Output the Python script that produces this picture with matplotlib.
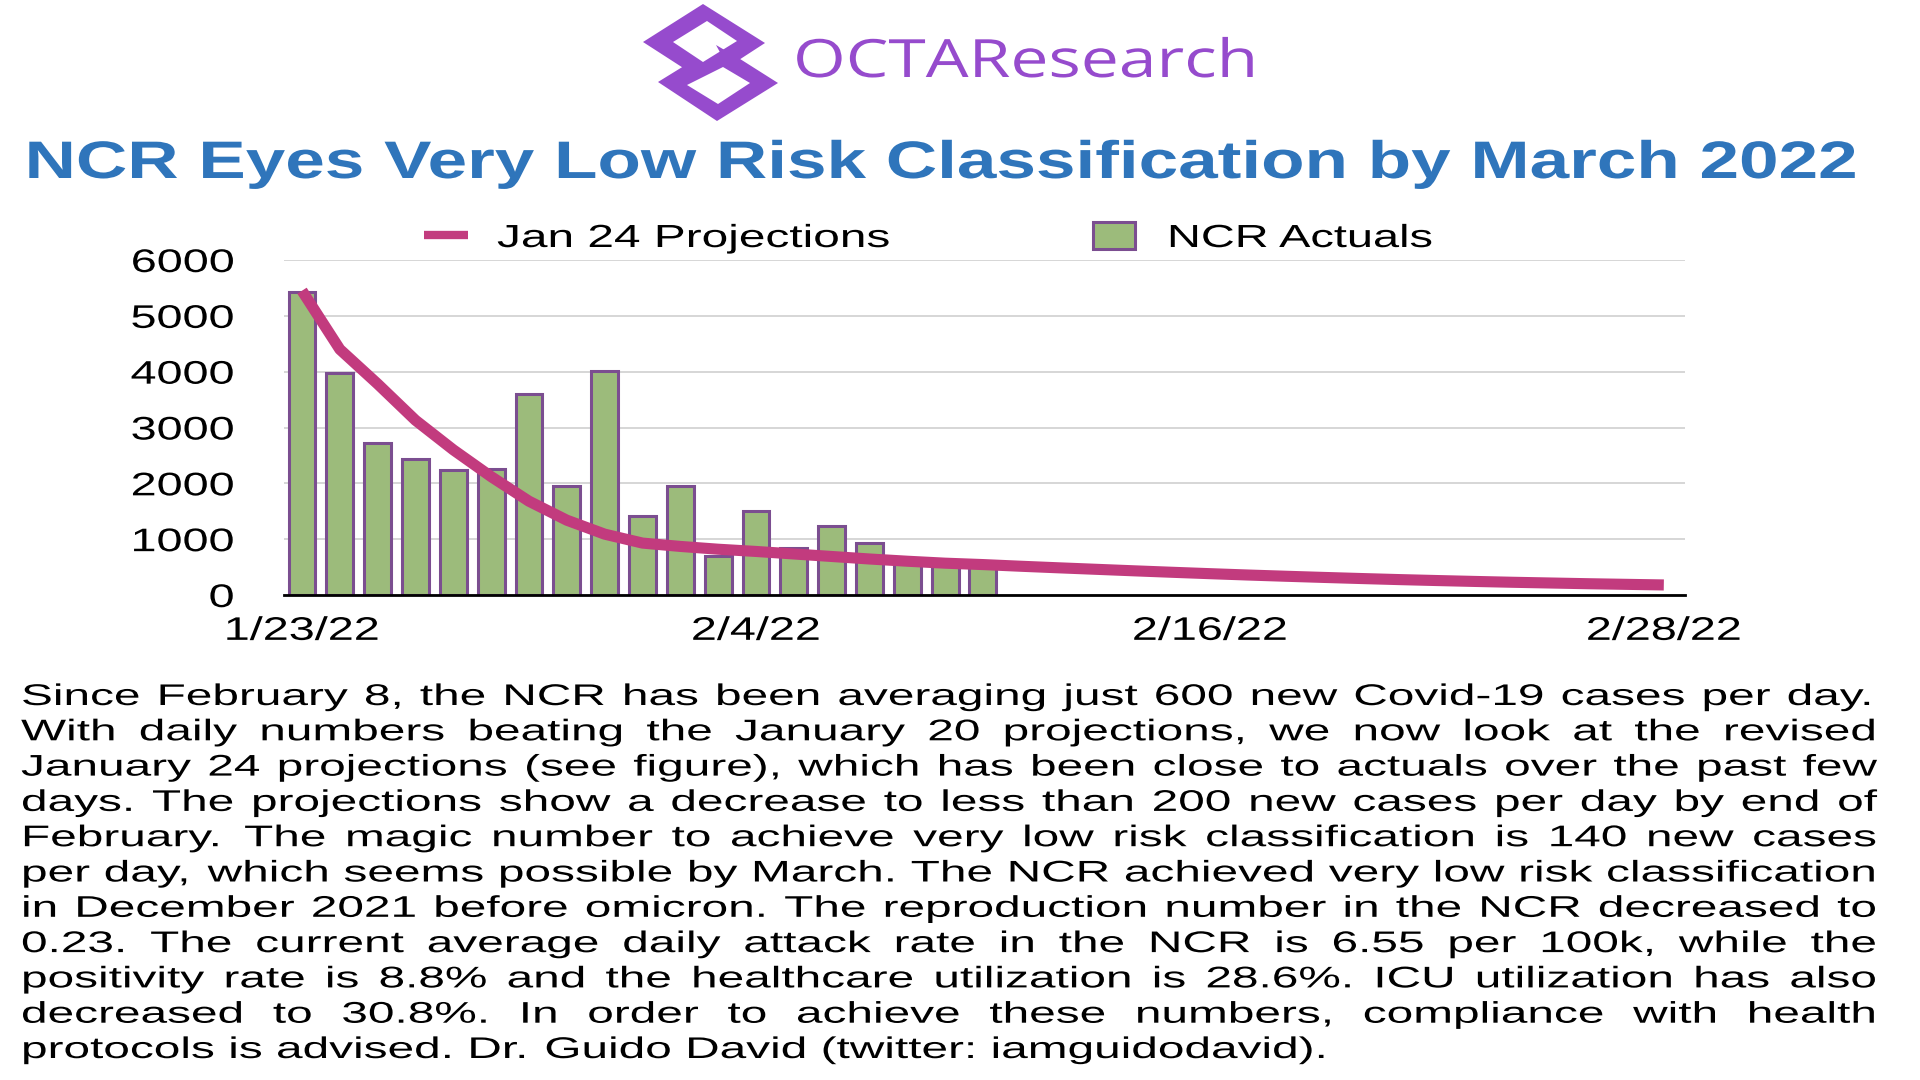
import numpy as np
import pandas as pd
import matplotlib
matplotlib.use("Agg")
import matplotlib.pyplot as plt
import matplotlib.dates as mdates
from matplotlib.patches import Polygon, Rectangle
from matplotlib.lines import Line2D
from matplotlib.patheffects import AbstractPathEffect
from matplotlib.transforms import Affine2D
from matplotlib.font_manager import FontProperties, findfont
from matplotlib.ft2font import FT2Font

# data
actual_dates = pd.date_range("2022-01-23", periods=19, freq="D")
ncr_actuals = [5420, 3980, 2720, 2430, 2240, 2250, 3600, 1960, 4010, 1420,
               1950, 690, 1500, 840, 1230, 930, 630, 585, 530]

proj_dates = pd.date_range("2022-01-23", periods=37, freq="D")
jan24_projections = [5450, 4400, 3780, 3130, 2600, 2120, 1680, 1340, 1090, 930,
                     870, 820, 780, 735, 690, 645, 605, 570, 545, 515,
                     487, 460, 433, 407, 382, 358, 336, 315, 295, 276,
                     259, 243, 228, 215, 202, 191, 180]

tick_dates = pd.to_datetime(["2022-01-23", "2022-02-04", "2022-02-16", "2022-02-28"])
y_ticks = [0, 1000, 2000, 3000, 4000, 5000, 6000]

title = "NCR Eyes Very Low Risk Classification by March 2022"
brand = "OCTAResearch"
legend_labels = ["Jan 24 Projections", "NCR Actuals"]
body_lines = [
    "Since February 8, the NCR has been averaging just 600 new Covid-19 cases per day.",
    "With daily numbers beating the January 20 projections, we now look at the revised",
    "January 24 projections (see figure), which has been close to actuals over the past few",
    "days. The projections show a decrease to less than 200 new cases per day by end of",
    "February. The magic number to achieve very low risk classification is 140 new cases",
    "per day, which seems possible by March. The NCR achieved very low risk classification",
    "in December 2021 before omicron. The reproduction number in the NCR decreased to",
    "0.23. The current average daily attack rate in the NCR is 6.55 per 100k, while the",
    "positivity rate is 8.8% and the healthcare utilization is 28.6%. ICU utilization has also",
    "decreased to 30.8%. In order to achieve these numbers, compliance with health",
    "protocols is advised. Dr. Guido David (twitter: iamguidodavid).",
]

PURPLE = "#964BCD"
BLUE = "#2F75BB"
LINE_C = "#C23B7E"
BAR_C = "#9CBB7B"
BAR_EDGE = "#7B4E90"
FONT = "Liberation Sans"

W, H = 1920, 1080
fig = plt.figure(figsize=(19.2, 10.8), dpi=100)
fig.patch.set_facecolor("white")

# overlay axes in pixel coordinates (y down) for logo, title, legend and text
bg = fig.add_axes([0, 0, 1, 1])
bg.set_xlim(0, W)
bg.set_ylim(H, 0)
bg.axis("off")


class Stretch(AbstractPathEffect):
    """widen glyphs horizontally, like the stretched original image"""

    def __init__(self, sx, anchor=0.0):
        super().__init__()
        self.sx = sx
        self.anchor = anchor

    def draw_path(self, renderer, gc, tpath, affine, rgbFace=None):
        xa = 0.0
        if self.anchor and len(tpath.vertices):
            ext = tpath.get_extents()
            xa = ext.x0 + self.anchor * ext.width
        pre = Affine2D().translate(-xa, 0).scale(self.sx, 1).translate(xa, 0)
        renderer.draw_path(gc, tpath, pre + affine, rgbFace)


_fonts = {}


def text_width(s, size, family=FONT, weight="normal"):
    key = (family, weight)
    if key not in _fonts:
        _fonts[key] = FT2Font(findfont(FontProperties(family=family, weight=weight)))
    f = _fonts[key]
    f.set_size(size, 100)
    return sum(f.load_char(ord(c)).linearHoriAdvance / 65536 for c in s)


def stretched_text(x, y, s, size, target_w, ha="left", family=FONT,
                   weight="normal", color="black"):
    sx = target_w / text_width(s, size, family, weight)
    anchor = {"left": 0.0, "center": 0.5, "right": 1.0}[ha]
    t = bg.text(x, y, s, fontsize=size, family=family, weight=weight,
                color=color, ha=ha, va="baseline")
    t.set_path_effects([Stretch(sx, anchor)])
    return t


# logo icon: two interlocked diamond rings
outer_up = [(643, 42), (703, 4), (765, 43), (705, 82)]
outer_lo = [(658, 82), (718, 45), (778, 83), (717, 121)]
hole_up = [(673, 42), (707, 21), (737, 41), (703, 62)]
hole_lo = [(687, 85), (723, 67), (750, 83), (718, 104)]
for pts in (outer_up, outer_lo):
    bg.add_patch(Polygon(pts, closed=True, facecolor=PURPLE, edgecolor="none"))
for pts in (hole_up, hole_lo):
    bg.add_patch(Polygon(pts, closed=True, facecolor="white", edgecolor="none"))
bg.add_patch(Polygon([(716, 45), (728, 52), (722, 56)], closed=True,
                     facecolor=PURPLE, edgecolor="none"))

stretched_text(793, 77, brand, 38, 465, family="Open Sans", color=PURPLE)

# title
stretched_text(940, 178, title, 38, 1836, ha="center", weight="bold", color=BLUE)

# legend
bg.add_line(Line2D([424, 468], [235, 235], color=LINE_C, lw=6,
                   solid_capstyle="butt"))
stretched_text(497, 247, legend_labels[0], 23, 394)
bg.add_patch(Rectangle((1093, 222), 42, 27, facecolor=BAR_C,
                       edgecolor=BAR_EDGE, lw=2.2))
stretched_text(1167, 247, legend_labels[1], 23, 269)

# chart
ax_l, ax_r, ax_t, ax_b = 284, 1685, 260, 595
ax = fig.add_axes([ax_l / W, 1 - ax_b / H, (ax_r - ax_l) / W, (ax_b - ax_t) / H])
ax.patch.set_alpha(0)

x_bar = mdates.date2num(actual_dates)
x_proj = mdates.date2num(proj_dates)
ax.bar(x_bar, ncr_actuals, width=0.71, color=BAR_C, edgecolor=BAR_EDGE,
       linewidth=2.2, zorder=2)
ax.plot(x_proj, jan24_projections, color=LINE_C, lw=8, zorder=3,
        solid_capstyle="butt", solid_joinstyle="round")

x0 = x_bar[0]
ax.set_xlim(x0 - 0.476, x0 + 36.56)
ax.set_ylim(0, 6000)
ax.set_yticks(y_ticks)
ax.set_yticklabels([str(v) for v in y_ticks])
ax.set_xticks(mdates.date2num(tick_dates))
ax.set_xticklabels([f"{d.month}/{d.day}/{d.year % 100}" for d in tick_dates])
tick_size = 23.5
ax.tick_params(axis="y", length=0, pad=36, labelsize=tick_size)
ax.tick_params(axis="x", length=0, pad=15, labelsize=tick_size)
tick_sx = 104 / text_width("6000", tick_size)
for lab in ax.get_yticklabels():
    lab.set_family(FONT)
    lab.set_path_effects([Stretch(tick_sx, 1.0)])
for lab in ax.get_xticklabels():
    lab.set_family(FONT)
    lab.set_path_effects([Stretch(tick_sx, 0.5)])
ax.yaxis.grid(True, color="#CFCFCF", lw=1.2, zorder=0)
ax.set_axisbelow(True)
for s in ("left", "right", "top"):
    ax.spines[s].set_visible(False)
ax.spines["bottom"].set_color("black")
ax.spines["bottom"].set_linewidth(2)
ax.spines["bottom"].set_zorder(4)

# justified paragraph, one text per word, glyphs widened like the original
psize = 21.5
left, right = 21, 1877
base0, step = 705, 35.3
space = text_width(" ", psize)
last = body_lines[-1]
body_sx = (1328 - left) / text_width(last, psize)
for i, line in enumerate(body_lines):
    y = base0 + i * step
    words = line.split()
    nat = [text_width(w, psize) for w in words]
    sx = body_sx
    if i < len(body_lines) - 1:
        gap = (right - left - sx * sum(nat)) / (len(words) - 1)
        if gap < 0.8 * space * sx:
            sx = (right - left) / (sum(nat) + 0.8 * space * (len(words) - 1))
            gap = 0.8 * space * sx
    else:
        gap = space * sx
    x = left
    for w, nw in zip(words, nat):
        t = bg.text(x, y, w, fontsize=psize, family=FONT, ha="left", va="baseline")
        t.set_path_effects([Stretch(sx)])
        x += nw * sx + gap

fig.savefig("out.png", dpi=100, facecolor="white")
